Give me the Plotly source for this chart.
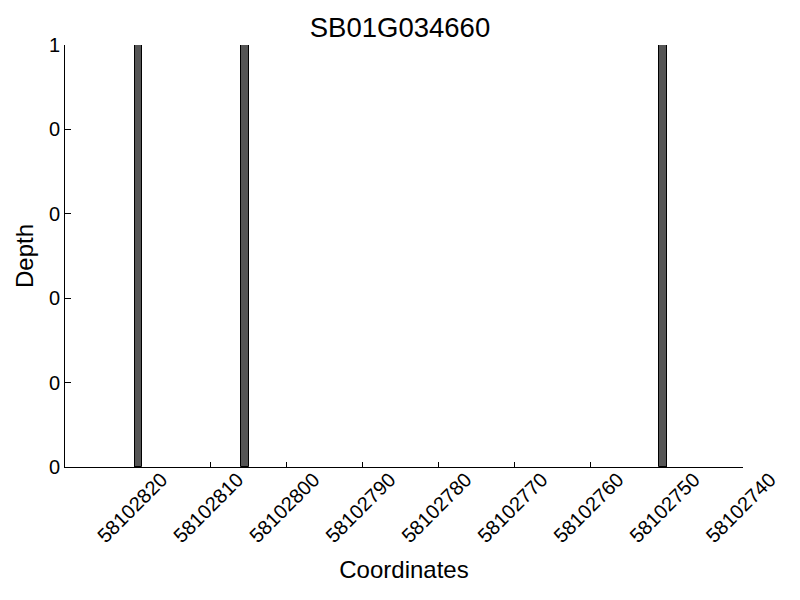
import plotly.graph_objects as go

title = "SB01G034660"
positions = [58102819, 58102805, 58102750]
depths = [1, 1, 1]
x_ticks = [58102820, 58102810, 58102800, 58102790, 58102780, 58102770, 58102760, 58102750, 58102740]
x_tick_labels = [str(v) for v in x_ticks]
y_ticks = [0, 0.2, 0.4, 0.6, 0.8, 1.0]
y_tick_labels = ["0", "0", "0", "0", "0", "1"]

FONT = "Liberation Sans, Arial, Helvetica, sans-serif"

fig = go.Figure()
fig.add_trace(go.Bar(
    x=positions, y=depths, width=1, offset=0,
    marker=dict(color="#555555", line=dict(color="black", width=1)),
    showlegend=False,
))

fig.update_layout(
    width=800, height=600,
    paper_bgcolor="white", plot_bgcolor="white",
    margin=dict(l=65, r=57, t=45, b=133, autoexpand=False),
    font=dict(family=FONT, color="black", size=20),
    title=dict(text=title, x=0.5, xanchor="center", y=1 - 18 / 600, yanchor="top",
               font=dict(size=27.5, family=FONT, color="black")),
    bargap=0,
)
fig.update_xaxes(
    range=[58102829.15, 58102740], autorange=False,
    tickmode="array", tickvals=x_ticks, ticktext=x_tick_labels,
    tickangle=-45, ticks="inside", ticklen=5, tickcolor="black", tickwidth=1,
    showline=True, linecolor="black", linewidth=1, mirror=False,
    showgrid=False, zeroline=False,
    tickfont=dict(size=20, family=FONT),
    ticklabelshift=-27, ticklabelstandoff=-8,
    title=dict(text="Coordinates", font=dict(size=24, family=FONT), standoff=15),
    automargin=False,
)
fig.update_yaxes(
    range=[0, 1], autorange=False,
    tickmode="array", tickvals=y_ticks, ticktext=y_tick_labels,
    ticks="inside", ticklen=6, tickcolor="black", tickwidth=1,
    showline=True, linecolor="black", linewidth=1, mirror=False,
    showgrid=False, zeroline=False,
    tickfont=dict(size=20, family=FONT),
    title=dict(text="Depth", font=dict(size=24, family=FONT), standoff=8),
    automargin=False,
)

fig.write_html("out.html", config={"displayModeBar": False},
               post_script="document.body.style.margin='0';document.body.style.padding='0';")
